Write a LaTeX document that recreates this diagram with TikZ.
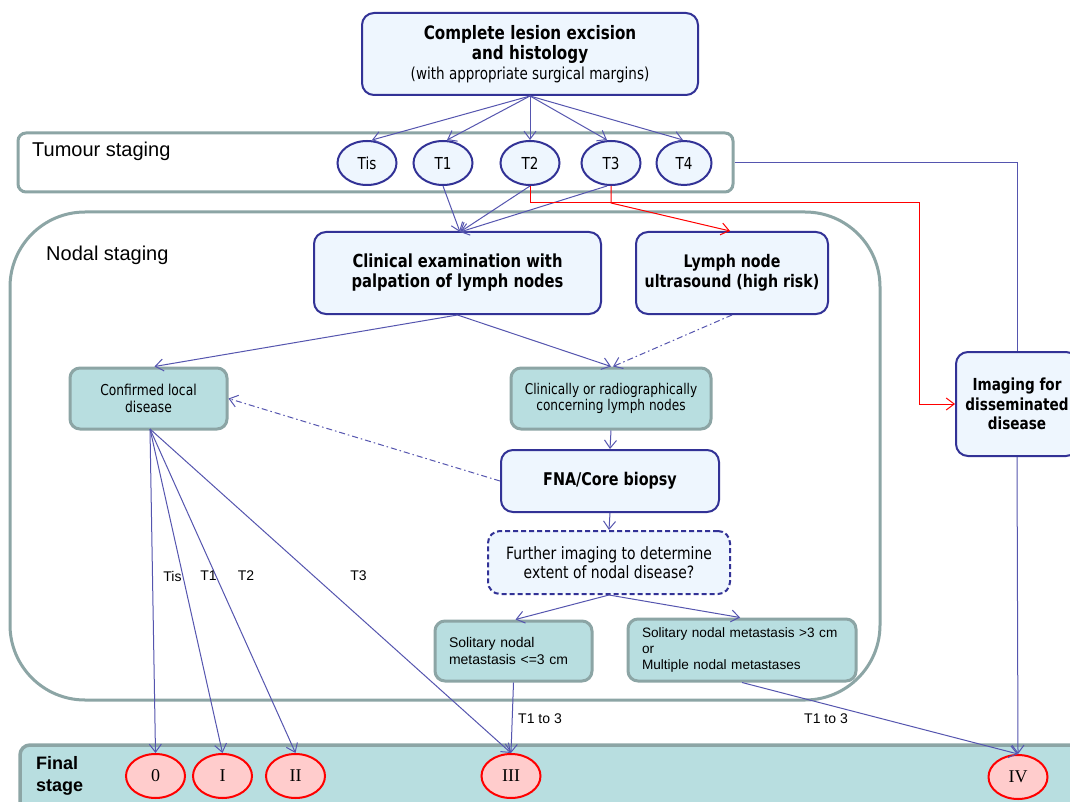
\documentclass[tikz,border=0pt]{standalone}
\usepackage{fontspec}
\setmainfont{Liberation Sans}
\newfontfamily\tfont{DejaVu Sans}[FakeStretch=0.82]
\newfontfamily\serfont{Liberation Serif}
\usetikzlibrary{arrows.meta,shapes.geometric}
\definecolor{conn}{RGB}{85,85,175}
\definecolor{dblue}{RGB}{50,50,150}
\definecolor{lfill}{RGB}{238,246,254}
\definecolor{tfill}{RGB}{184,222,224}
\definecolor{gborder}{RGB}{140,165,165}
\definecolor{rfill}{RGB}{255,204,204}
\newcommand\myfs[2]{\fontsize{#1}{#2}\selectfont}
\begin{document}
\begin{tikzpicture}[x=1pt,y={(0pt,-1pt)},
  bluebox/.style={draw=dblue, line width=2pt, fill=lfill, rounded corners=12pt, align=center, inner sep=0pt},
  dashbox/.style={bluebox, dash pattern=on 5pt off 3pt},
  tealbox/.style={draw=gborder, line width=3pt, fill=tfill, rounded corners=10pt, inner sep=0pt},
  frame/.style={draw=gborder, line width=3pt, inner sep=0pt},
  tstage/.style={ellipse, draw=dblue, line width=2pt, fill=lfill, inner sep=0pt, minimum width=59pt, minimum height=44pt, font=\tfont\myfs{16.5}{18}},
  fstage/.style={ellipse, draw=red, line width=2pt, fill=rfill, inner sep=0pt, minimum width=59pt, minimum height=44pt, font=\serfont\myfs{18}{19}},
  conline/.style={draw=conn, line width=1pt, -{Straight Barb[length=8pt,width=12pt]}},
  plainline/.style={draw=conn, line width=1pt},
  dotline/.style={conline, dash pattern=on 6pt off 3pt on 1.5pt off 3pt},
  redline/.style={draw=red, line width=1pt, -{Straight Barb[length=8pt,width=12pt]}},
  lab/.style={font=\myfs{14}{16}, inner sep=0pt},
  boldt/.style={font=\tfont\bfseries\myfs{18}{20}}
]
\useasboundingbox (0,0) rectangle (1070,802);
\fill[white] (0,0) rectangle (1070,802);
\clip (0,0) rectangle (1070,802);

% frames
\node[frame, rounded corners=75pt, fill=white, minimum width=870pt, minimum height=488pt] (nodal) at (445,456) {};
\node[frame, rounded corners=8pt, fill=white, minimum width=715pt, minimum height=59pt] (tum) at (375.5,162.5) {};
\node[frame, line width=3.5pt, rounded corners=10pt, fill=tfill, minimum width=1070pt, minimum height=80pt] (finbox) at (555,785) {};

\node[anchor=west, font=\myfs{20}{22}, inner sep=0pt] (tumlab) at (32,151) {Tumour staging};
\node[anchor=west, font=\myfs{20}{22}, inner sep=0pt] (nodlab) at (46,255) {Nodal staging};
\node[anchor=north west, align=left, font=\bfseries\myfs{18}{22.5}, inner sep=0pt] (finlab) at (36,756) {Final\\stage};

% top box
\node[bluebox, minimum width=336pt, minimum height=82pt, font=\tfont\myfs{18.5}{20}] (top) at (530,54)
  {\textbf{Complete lesion excision}\\\textbf{and histology}\\{\myfs{16.5}{20}(with appropriate surgical margins)}};

% tumour stages
\node[tstage] (tis) at (367,163) {Tis};
\node[tstage] (t1) at (443,163) {T1};
\node[tstage] (t2) at (530,163) {T2};
\node[tstage] (t3) at (611,163) {T3};
\node[tstage, minimum width=55pt] (t4) at (684,163) {T4};

% nodal boxes
\node[bluebox, minimum width=287pt, minimum height=82pt, boldt] (clin) at (457.5,273) {Clinical examination with\\palpation of lymph nodes};
\node[bluebox, minimum width=192pt, minimum height=82pt, font=\tfont\bfseries\myfs{17.3}{20}] (lymph) at (732,273) {Lymph node\\ultrasound (high risk)};
\node[tealbox, minimum width=157pt, minimum height=61pt, align=center, font=\tfont\myfs{15}{16.5}] (conf) at (148.5,398.5) {Confirmed local\\disease};
\node[tealbox, minimum width=200pt, minimum height=61pt, align=center, font=\tfont\myfs{14.8}{16.5}] (conc) at (611,398.5) {Clinically or radiographically\\concerning lymph nodes};
\node[bluebox, minimum width=218pt, minimum height=62pt, font=\tfont\bfseries\myfs{17.5}{20}] (fna) at (610,481) {FNA/Core biopsy};
\node[dashbox, minimum width=242pt, minimum height=63pt, font=\tfont\myfs{17}{19.6}] (further) at (609,562.5) {Further imaging to determine\\extent of nodal disease?};
\node[tealbox, minimum height=60pt, inner xsep=14pt, text width=129pt, align=left, font=\myfs{14}{16.3}] (sol1) at (513.5,651) {Solitary nodal\\metastasis <=3 cm};
\node[tealbox, minimum height=62pt, inner xsep=9pt, text width=210pt, align=left, font=\myfs{13.6}{16.3}] (sol2) at (742,650) {\hspace*{5pt}Solitary nodal metastasis >3 cm\\\hspace*{5pt}or\\\hspace*{5pt}Multiple nodal metastases};
\node[bluebox, minimum width=122pt, minimum height=104pt, font=\tfont\bfseries\myfs{16.6}{19.5}] (img) at (1017,404) {Imaging for\\disseminated\\disease};

% final stages
\node[fstage] (s0) at (155.5,776) {0};
\node[fstage] (s1) at (222.5,776) {I};
\node[fstage] (s2) at (295.5,776) {II};
\node[fstage] (s3) at (511,776) {III};
\node[fstage] (s4) at (1018,777) {IV};

% connectors top -> tumour stages
\draw[conline] (top.south) -- ([xshift=5pt]tis.north);
\draw[conline] (top.south) -- ([xshift=4pt]t1.north);
\draw[conline] (top.south) -- (t2.north);
\draw[conline] (top.south) -- ([xshift=-4pt]t3.north);
\draw[conline] (top.south) -- ([xshift=-1pt]t4.north);

% tumour stages -> clinical examination
\coordinate (cin) at (460,232);
\draw[conline] (t1.south) -- (cin);
\draw[conline] (t2.south) -- (cin);
\draw[conline] ([xshift=-4pt]t3.south) -- (cin);

% red paths
\coordinate (rr) at (919,203);
\draw[redline] (t2.south) |- (rr) |- (img.west);
\draw[redline] (t3.south) -- (t3.south |- rr) -- ([xshift=-2pt]lymph.north);

% T4 -> imaging -> IV
\draw[plainline] (tum.east) -- (img.north |- tum.east) -- (img.north);
\draw[conline] (img.south) -- (s4.north);

% nodal flow
\draw[conline] (clin.south) -- ([xshift=6pt]conf.north);
\draw[conline] (clin.south) -- (conc.north);
\draw[dotline] (lymph.south) -- ([xshift=2pt]conc.north);
\draw[conline] (conc.south) -- (fna.north);
\draw[dotline] (fna.west) -- (conf.east);
\draw[conline] (fna.south) -- (further.north);
\draw[conline] (further.south) -- ([xshift=2pt]sol1.north);
\draw[conline] (further.south) -- ([xshift=-2pt]sol2.north);

% to final stages
\coordinate (cs) at (150,429);
\draw[conline] (cs) -- (s0.north);
\draw[conline] (cs) -- (s1.north);
\draw[conline] (cs) -- (s2.north);
\draw[conline] (cs) -- (s3.north);
\draw[conline] (sol1.south) -- (s3.north);
\draw[conline] (sol2.south) -- (s4.north);

% labels
\node[lab] (ltis) at (172.5,576) {Tis};
\node[lab] (lt1) at (208.5,576) {T1};
\node[lab] (lt2) at (246,576) {T2};
\node[lab] (lt3) at (358.5,576) {T3};
\node[lab] (lta) at (540,719) {T1 to 3};
\node[lab] (ltb) at (826,719) {T1 to 3};
\end{tikzpicture}
\end{document}
